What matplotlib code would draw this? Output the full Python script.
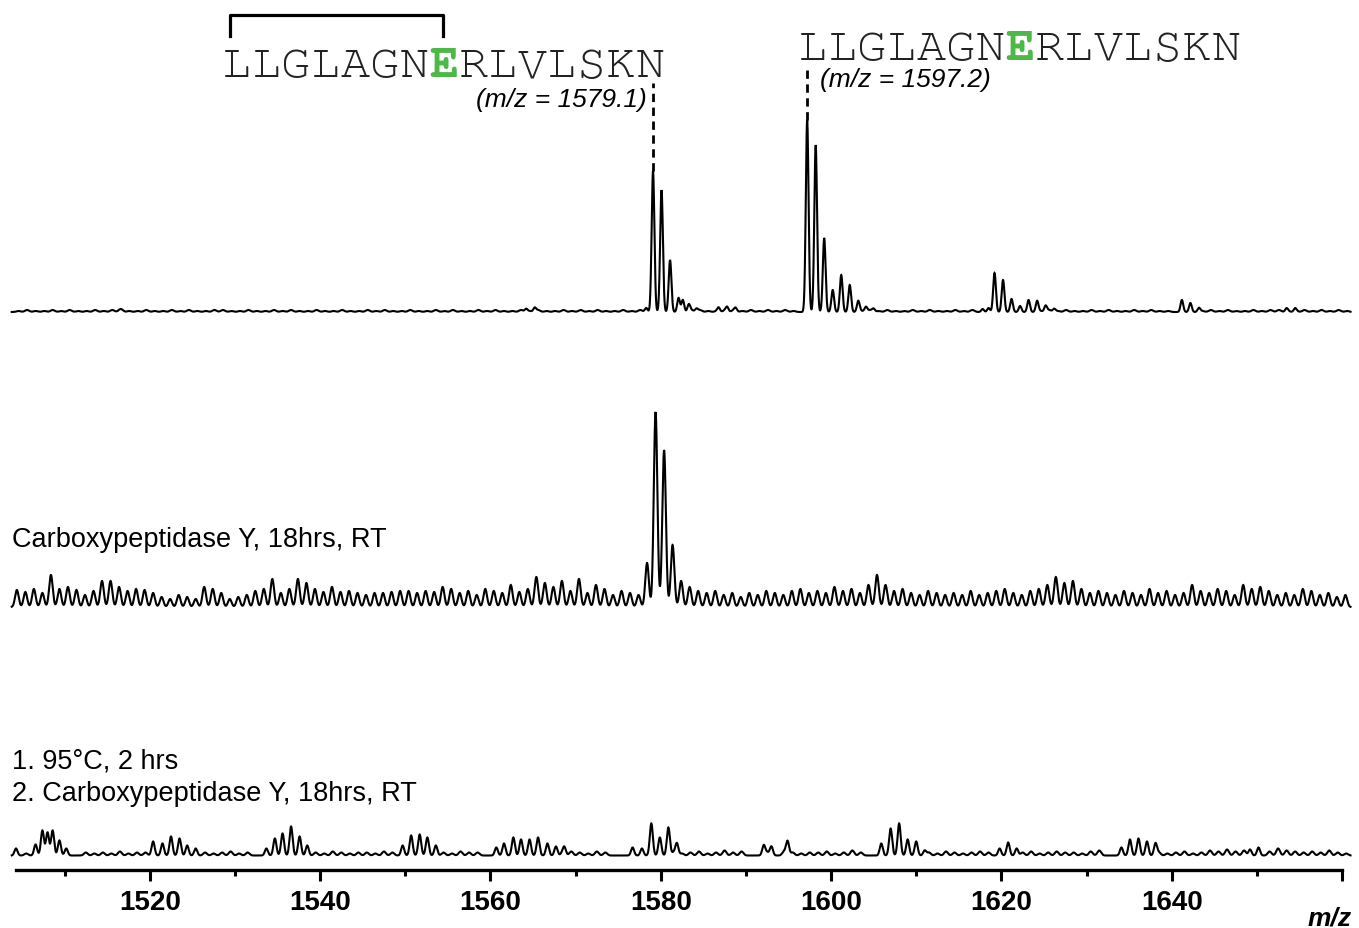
import numpy as np
import matplotlib
matplotlib.use("Agg")
import matplotlib.pyplot as plt
from matplotlib.lines import Line2D
import warnings

warnings.filterwarnings("ignore")

# --- data (heights in px above each trace baseline) ---
# top trace: intact peptide isotope clusters
top_mz = [1564.2, 1565.2, 1578.3, 1579.1, 1580.1, 1581.1, 1582.1, 1582.6, 1583.3, 1584.2,
          1586.8, 1587.8, 1588.8, 1597.2, 1598.2, 1599.2, 1600.2, 1601.2, 1602.2,
          1603.2, 1604.1, 1605.0, 1617.8, 1618.5, 1619.2, 1620.2, 1621.2, 1622.2,
          1623.2, 1624.2, 1625.2, 1626.2, 1641.2, 1642.2, 1643.2, 1653.5, 1654.5]
top_h = [3, 4, 4, 141, 122, 52, 14, 12, 7, 3,
         4, 4, 3, 192, 167, 74, 22, 37, 27,
         11, 5, 3, 3, 4, 39, 32, 13, 6,
         12, 11, 6, 3, 12, 9, 4, 3, 3]
# small baseline ripple of the top trace, one value per m/z unit from 1504.6
top_ripple = [1, 2, 1, 1, 2, 1, 2, 1, 1, 2,
              1, 2, 3, 1, 1, 2, 1, 1, 2, 1,
              2, 1, 1, 2, 2, 1, 1, 2, 1, 1,
              2, 1, 2, 1, 1, 2, 1, 1, 2, 1,
              1, 2, 1, 2, 1, 1, 2, 1, 1, 2,
              1, 2, 1, 1, 2, 1, 2, 1, 1, 2,
              1, 2, 1, 1, 2, 1, 2, 1, 2, 1,
              1, 2, 1, 2, 0, 0, 0, 0, 0, 2,
              2, 1, 1, 2, 2, 1, 2, 1, 2, 1,
              2, 1, 0, 0, 0, 0, 0, 0, 0, 1,
              2, 1, 2, 1, 1, 2, 1, 2, 1, 1,
              2, 1, 2, 0, 0, 0, 0, 0, 0, 0,
              1, 2, 1, 2, 1, 1, 2, 1, 2, 1,
              1, 2, 1, 2, 1, 1, 0, 0, 0, 1,
              2, 1, 2, 1, 1, 2, 1, 2, 2, 1,
              1, 2, 1, 2, 1, 2, 1]

# middle trace: Carboxypeptidase Y, 18hrs, RT (one value per m/z unit from 1504.4)
mid_start = 1504.4
mid_h = [17, 15, 18, 14, 32, 18, 20, 17, 12, 16,
         26, 26, 20, 16, 18, 17, 14, 10, 8, 12,
         10, 8, 20, 18, 14, 8, 10, 12, 16, 18,
         28, 14, 18, 28, 24, 18, 15, 20, 15, 16,
         14, 12, 14, 14, 15, 16, 16, 14, 16, 15,
         20, 18, 14, 16, 12, 18, 16, 14, 22, 15,
         18, 30, 24, 20, 26, 16, 28, 14, 22, 18,
         12, 16, 14, 12, 44, 195, 157, 62, 26, 20,
         16, 14, 16, 12, 14, 10, 14, 12, 16, 14,
         12, 16, 18, 14, 16, 14, 20, 16, 18, 14,
         22, 32, 22, 16, 18, 14, 12, 16, 14, 12,
         14, 12, 16, 12, 14, 16, 18, 14, 12, 16,
         18, 22, 30, 24, 26, 18, 14, 16, 14, 12,
         16, 14, 12, 18, 14, 16, 12, 14, 22, 16,
         14, 18, 16, 12, 22, 18, 20, 16, 12, 14,
         12, 18, 16, 12, 14, 10, 12]

# bottom trace: 95°C, 2 hrs then Carboxypeptidase Y
bot_mz = [1504.3, 1506.6, 1507.4, 1508.0, 1508.6, 1509.4, 1510.2, 1520.4, 1521.5, 1522.5,
          1523.5, 1524.4, 1525.4, 1533.7, 1534.7, 1535.6, 1536.6, 1537.6, 1538.5, 1549.7,
          1550.7, 1551.7, 1552.6, 1553.6, 1560.7, 1561.6, 1562.7, 1563.6, 1564.6, 1565.6,
          1566.7, 1567.7, 1568.7, 1576.7, 1577.8, 1578.9, 1579.9, 1580.9, 1581.9, 1592.1,
          1593.0, 1594.9, 1605.9, 1607.0, 1608.0, 1609.0, 1610.0, 1611.0, 1619.8, 1620.8,
          1621.8, 1634.1, 1635.1, 1636.1, 1637.1, 1638.1, 1649.2, 1650.2]
bot_h = [7, 11, 25, 23, 25, 15, 7, 14, 12, 19,
         17, 10, 7, 7, 17, 22, 29, 19, 10, 10,
         20, 21, 18, 10, 8, 12, 18, 16, 16, 18,
         12, 9, 7, 8, 7, 32, 18, 28, 12, 10,
         9, 14, 12, 27, 32, 16, 14, 5, 7, 13,
         7, 8, 16, 17, 14, 12, 6, 8]
# baseline ripple of the bottom trace, one value per m/z unit from 1504.5
bot_ripple = [0, 2, 0, 0, 0, 0, 0, 0, 3, 2,
              3, 2, 4, 2, 3, 3, 0, 0, 0, 0,
              0, 0, 3, 2, 3, 4, 2, 3, 0, 0,
              0, 0, 0, 0, 0, 3, 2, 4, 3, 2,
              3, 3, 2, 4, 3, 0, 0, 0, 0, 0,
              3, 2, 4, 3, 3, 0, 0, 0, 0, 0,
              0, 0, 0, 0, 3, 4, 3, 2, 4, 3,
              0, 0, 0, 0, 0, 0, 0, 3, 2, 3,
              4, 2, 3, 5, 3, 4, 0, 0, 3, 0,
              4, 3, 2, 3, 3, 4, 2, 3, 5, 3,
              0, 0, 0, 0, 0, 0, 0, 3, 2, 4,
              3, 2, 3, 4, 3, 0, 0, 0, 3, 4,
              2, 3, 4, 3, 3, 2, 4, 5, 0, 0,
              0, 0, 0, 0, 3, 2, 3, 4, 2, 3,
              5, 4, 6, 4, 5, 0, 0, 4, 7, 5,
              4, 3, 4, 3, 5, 3, 2]

seq_text = "LLGLAGNERLVLSKN"
label_top_left = "(m/z = 1579.1)"
label_top_right = "(m/z = 1597.2)"
mz_left, mz_right = 1579.1, 1597.2

W, H = 1359, 929
fig = plt.figure(figsize=(W / 100, H / 100), dpi=100)
ax = fig.add_axes([16 / W, (H - 871) / H, (1342 - 16) / W, 871 / H])
ax.set_xlim(1504.3, 1660)
ax.set_ylim(0, 871)

x = np.linspace(1503.8, 1661.0, 9000)


def trace(centers, heights, sigma):
    y = np.zeros_like(x)
    for c, h in zip(centers, heights):
        y += h * np.exp(-0.5 * ((x - c) / sigma) ** 2)
    return y


mid_mz = mid_start + np.arange(len(mid_h))
top_rip_mz = 1504.6 + np.arange(len(top_ripple))
bot_rip_mz = 1504.5 + np.arange(len(bot_ripple))
base_top, base_mid, base_bot = 558, 263, 14.5
kw = dict(color="black", lw=1.5, clip_on=False, solid_joinstyle="miter")
ax.plot(x, base_top + trace(top_mz, top_h, 0.16)
        + trace(top_rip_mz, top_ripple, 0.25), **kw)
ax.plot(x, base_mid + trace(mid_mz, mid_h, 0.21), **kw)
ax.plot(x, base_bot + trace(bot_mz, bot_h, 0.18)
        + trace(bot_rip_mz, bot_ripple, 0.22), **kw)

# dashed markers from the labelled peaks up to the labels
ax.plot([mz_left, mz_left], [base_top + 141, 871 - 84], ls=(0, (3, 2)), color="black", lw=2)
ax.plot([mz_right, mz_right], [base_top + 192, 871 - 66], ls=(0, (3, 2)), color="black", lw=2)

for s in ["top", "left", "right"]:
    ax.spines[s].set_visible(False)
ax.spines["bottom"].set_linewidth(2.4)
ax.set_yticks([])
ax.set_xticks(np.arange(1520, 1661, 20))
ax.set_xticks(np.arange(1510, 1660, 20), minor=True)
ax.set_xticklabels(["1520", "1540", "1560", "1580", "1600", "1620", "1640", ""])
ax.tick_params(axis="x", which="major", length=8, width=2.2, pad=6,
               labelsize=20)
ax.tick_params(axis="x", which="minor", length=4.5, width=2.2)
for t in ax.get_xticklabels():
    t.set_fontweight("bold")
    t.set_fontfamily("Liberation Sans")

fig.text(1352 / W, 1 - 926 / H, "m/z", ha="right", va="baseline", fontsize=19,
         fontweight="bold", fontstyle="italic", family="Liberation Sans")


def px(xp, yp):
    return xp / W, 1 - yp / H


# peptide sequences, monospaced slab serif, with the E highlighted
mono = ["Courier New", "FreeMono", "Nimbus Mono PS", "Liberation Serif"]


def sequence(x0, y_base):
    step = 29.55
    for i, ch in enumerate(seq_text):
        is_e = (i == 7)
        fig.text(*px(x0 + step * (i + 0.5), y_base), ch, ha="center", va="baseline",
                 fontsize=35, family=mono,
                 fontweight="bold" if is_e else "normal",
                 color="#4cb848" if is_e else "#222222")


sequence(222, 77)
sequence(798, 60)

# bracket over LLGLAGN
fig.add_artist(Line2D([230 / W, 230 / W, 443 / W, 443 / W],
                      [1 - 37 / H, 1 - 16 / H, 1 - 16 / H, 1 - 37 / H],
                      color="black", lw=2.3))

fig.text(*px(647, 107), label_top_left, ha="right", va="baseline", fontsize=19,
         fontstyle="italic", family="Liberation Sans")
fig.text(*px(820, 87), label_top_right, ha="left", va="baseline", fontsize=19,
         fontstyle="italic", family="Liberation Sans")

fig.text(*px(12, 547), "Carboxypeptidase Y, 18hrs, RT", ha="left", va="baseline",
         fontsize=19.5, family="Liberation Sans")
fig.text(*px(12, 768), "1. 95°C, 2 hrs", ha="left", va="baseline",
         fontsize=19.5, family="Liberation Sans")
fig.text(*px(12, 801), "2. Carboxypeptidase Y, 18hrs, RT", ha="left", va="baseline",
         fontsize=19.5, family="Liberation Sans")

fig.savefig("out.png", dpi=100)
